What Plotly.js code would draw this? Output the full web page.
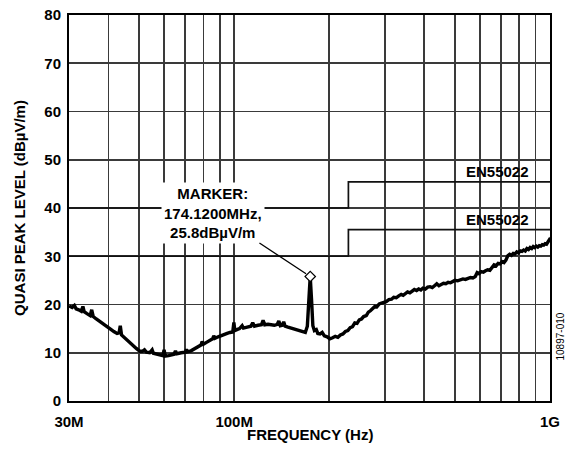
<!DOCTYPE html>
<html>
<head>
<meta charset="utf-8">
<script src="https://cdn.plot.ly/plotly-3.0.1.min.js"></script>
<style>html,body{margin:0;padding:0;background:#fff;}#chart{width:574px;height:455px;}</style>
</head>
<body>
<div id="chart"></div>
<script>
// Measured quasi-peak emission (frequency in MHz, level in dBµV/m)
const freqMHz = [30,30.7,31.2,31.6,32.2,32.8,33.2,33.5,34.2,35.0,35.4,35.8,36.6,37.6,38.6,39.6,40.6,41.6,42.6,43.2,43.6,44.0,45.0,46.2,47.5,49.0,50.3,51.2,52.0,52.8,54.0,55.0,55.5,57.0,58.5,59.5,60.0,60.5,62.0,63.5,64.5,65.2,65.8,68.0,70.0,70.6,71.2,73.0,75.0,77.0,78.5,79.2,80.0,82.0,84.0,85.5,86.2,87.0,89.0,91.0,93.0,95.0,97.0,99.0,99.8,100.5,102,104,106,107,110,113,114.5,116,119,122,123.5,125,128,131,134,137,138.5,140,142,143.5,145,148,152,156,160,164,168,170.5,172.5,174.12,175.8,177.5,179.5,182,184,187,190,193,197,201,205,209,213,217,221,225,229,233,237,241,245,249,253,257,262,266,270,275,279,283,288,293,298,303,309,315,320,326,332,338,343,348,354,360,366,372,378,384,390,396,403,410,417,424,431,438,445,452,460,468,476,484,492,500,510,520,530,540,550,560,570,580,588,596,605,615,625,635,645,655,665,675,685,695,705,715,725,735,745,755,765,775,785,795,805,815,825,835,845,855,865,875,885,895,905,915,925,935,945,955,965,975,985,995,1000];
const levelDb = [19.7,19.4,19.8,19.1,18.9,18.6,19.6,18.5,18.1,17.7,18.9,17.5,17.0,16.4,15.9,15.4,14.9,14.4,14.0,14.1,15.6,13.7,13.1,12.3,11.6,10.9,10.3,10.3,10.6,10.1,10.0,10.6,9.9,9.7,9.5,9.4,10.6,9.3,9.4,9.6,9.7,10.4,9.8,10.0,10.1,10.7,10.2,10.4,10.8,11.2,11.6,12.3,11.8,12.2,12.5,12.9,13.5,13.0,13.3,13.6,13.8,14.0,14.2,14.3,16.3,14.6,14.8,15.0,15.6,15.1,15.3,15.5,16.2,15.5,15.7,15.8,16.7,15.8,15.9,15.8,15.7,15.9,16.6,15.6,15.7,16.4,15.5,15.3,15.1,14.9,14.7,14.4,14.2,15.5,21.0,25.8,21.0,15.6,14.6,14.8,14.0,13.9,14.2,13.5,13.3,12.9,13.1,13.4,13.2,13.7,13.9,14.4,14.6,15.2,15.4,16.2,16.1,16.8,17.0,17.5,17.7,18.4,18.7,19.2,19.6,19.5,20.1,20.3,20.4,20.6,21.0,21.1,21.5,21.4,21.8,22.1,21.9,22.3,22.6,22.4,22.8,23.1,22.9,23.2,23.0,23.4,23.2,23.6,23.7,23.5,23.9,24.3,23.9,24.2,24.4,24.3,24.6,24.5,24.8,25.0,24.9,25.2,25.3,25.2,25.5,25.6,25.5,25.8,26.6,26.4,26.8,26.7,27.0,27.2,27.1,27.8,28.2,28.0,28.5,28.4,28.9,28.7,29.2,30.1,30.4,30.2,30.6,30.5,30.9,30.7,31.1,31.0,31.3,31.1,31.6,31.4,31.8,31.6,32.0,31.8,32.1,31.9,32.2,32.1,32.4,32.3,32.6,32.5,33.0,33.4,33.2];

// EN55022 limit steps
const limitFreq = [30, 230, 230, 1000];
const limitUpper = [40, 40, 45.4, 45.4];
const limitLower = [30, 30, 35.5, 35.5];
const limitLabel = "EN55022";

// Marker
const markerFreq = [174.12];
const markerLevel = [25.8];
const markerText = "MARKER:<br>174.1200MHz,<br>25.8dBµV/m";

// Axes
const xTickVals = [30,40,50,60,70,80,90,100,200,300,400,500,600,700,800,900,1000];
const xTickText = ["30M","","","","","","","100M","","","","","","","","","1G"];
const yTickVals = [0,10,20,30,40,50,60,70,80];
const xTitle = "FREQUENCY (Hz)";
const yTitle = "QUASI PEAK LEVEL (dBµV/m)";

const FONT = "Arial, 'Liberation Sans', sans-serif";
const bold = (s) => "<b>" + s + "</b>";

const traces = [
  {x: limitFreq, y: limitUpper, mode: "lines", line: {color: "#111", width: 1.7}, hoverinfo: "skip"},
  {x: limitFreq, y: limitLower, mode: "lines", line: {color: "#111", width: 1.7}, hoverinfo: "skip"},
  {x: freqMHz, y: levelDb, mode: "lines", line: {color: "#000", width: 3.4}},
  {x: markerFreq, y: markerLevel, mode: "markers", marker: {symbol: "diamond", size: 8, color: "#fff", line: {color: "#000", width: 1.2}}}
];

const layout = {
  width: 574, height: 455,
  margin: {l: 69, r: 24, t: 15, b: 54},
  paper_bgcolor: "#fff", plot_bgcolor: "#fff",
  showlegend: false,
  font: {family: FONT, color: "#000", size: 14},
  xaxis: {
    type: "log", range: [Math.log10(30), 3],
    tickmode: "array", tickvals: xTickVals, ticktext: xTickText.map(t => t ? bold(t) : ""),
    ticks: "", ticklen: 0, ticklabelstandoff: 6, tickfont: {size: 15, family: FONT},
    showgrid: true, gridcolor: "#3a3a3a", gridwidth: 1.8,
    showline: true, linecolor: "#000", linewidth: 2, mirror: true,
    zeroline: false,
    title: {text: ""}
  },
  yaxis: {
    range: [0, 80], tickmode: "array", tickvals: yTickVals, ticktext: yTickVals.map(v => bold(String(v))),
    ticks: "", ticklen: 0, ticklabelstandoff: 3, tickfont: {size: 15, family: FONT},
    showgrid: true, gridcolor: "#3a3a3a", gridwidth: 1.8,
    showline: true, linecolor: "#000", linewidth: 2, mirror: true,
    zeroline: false,
    title: {text: bold(yTitle), font: {size: 15, family: FONT}, standoff: 15}
  },
  annotations: [
    {x: Math.log10(markerFreq[0]), y: markerLevel[0], xref: "x", yref: "y",
     text: bold(markerText), showarrow: true, arrowhead: 0, arrowwidth: 1.3, arrowcolor: "#000",
     ax: -97, ay: -64, standoff: 5, bgcolor: "#fff", borderpad: 2,
     font: {size: 15, family: FONT}, align: "center"},
    {x: Math.log10(680), y: 47.6, xref: "x", yref: "y", text: bold(limitLabel), showarrow: false,
     font: {size: 15, family: FONT}},
    {x: Math.log10(680), y: 37.7, xref: "x", yref: "y", text: bold(limitLabel), showarrow: false,
     font: {size: 15, family: FONT}},
    {x: 0, y: 0, xref: "paper", yref: "paper", text: "10897-010", showarrow: false, textangle: -90,
     font: {size: 10, family: FONT}},
    {x: 0.5, y: 0, xref: "paper", yref: "paper", text: bold(xTitle), showarrow: false,
     yanchor: "middle", font: {size: 15, family: FONT}}
  ]
};
// side label / x title positions in pixels -> paper coords
const plotW = 574 - 69 - 24, plotH = 455 - 15 - 54;
layout.annotations[3].x = (567 - 69) / plotW;
layout.annotations[3].y = (401 - 363) / plotH;
layout.annotations[4].y = (401 - 434) / plotH;

Plotly.newPlot("chart", traces, layout, {displayModeBar: false, staticPlot: true});
</script>
</body>
</html>
